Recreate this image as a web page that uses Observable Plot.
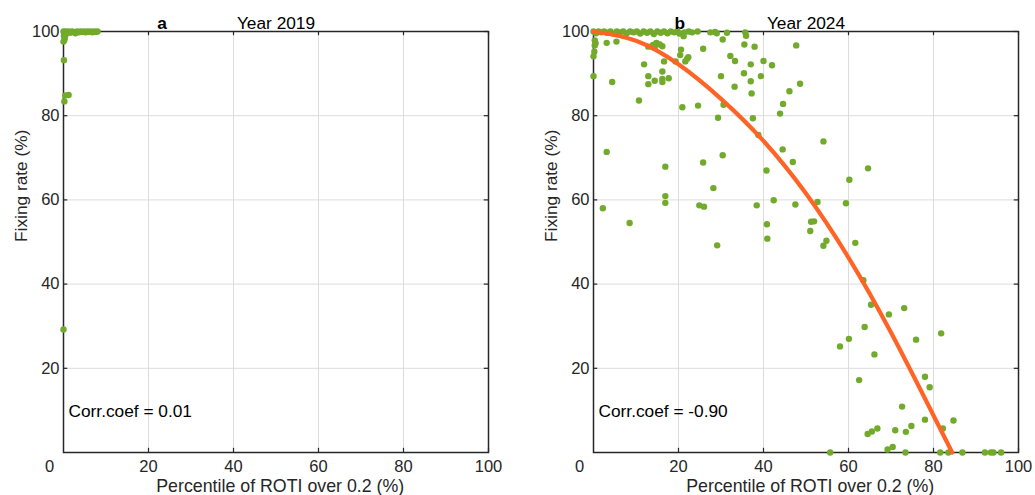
<!DOCTYPE html>
<html><head><meta charset="utf-8">
<script src="https://cdn.jsdelivr.net/npm/d3@7"></script>
<script src="https://cdn.jsdelivr.net/npm/@observablehq/plot@0.6"></script>
<style>
body{margin:0;background:#fff;font-family:"Liberation Sans",Arial,sans-serif}
#wrap{display:flex;width:1035px;height:495px}
</style>
</head><body><div id="wrap"></div>
<script>
const xTicks = [20, 40, 60, 80, 100];
const yTicks = [20, 40, 60, 80, 100];
const zeroLabel = ["0"];
const panelLetters = ["a", "b"];
const yearTitles = ["Year 2019", "Year 2024"];
const corrLabels = ["Corr.coef = 0.01", "Corr.coef = -0.90"];
const xLabel = "Percentile of ROTI over 0.2 (%)";
const yLabel = "Fixing rate (%)";

// Panel a (2019)
const rotiA = [0,0.2,0.5,0.8,1.2,1.6,2,2.4,2.8,3.2,3.6,4,4.4,4.8,5.2,5.6,6,6.4,6.8,7.2,7.6,8,
  0.1,0.3,0.2,0,0.5,0.1,0.4,1.2,0.2,0];
const fixA = [100,99.6,100,99.8,100,99.7,100,99.9,99.6,100,99.8,100,99.9,100,99.8,100,99.9,100,99.8,100,99.9,100,
  99,98.5,98,97.6,99.2,93.2,84.8,84.9,83.4,29.2];

// Panel b (2024)
const rotiB = [0,0.6,1.2,1.8,2.5,3.2,4,4.7,5.5,6.2,7,7.8,8.6,9.4,10.2,11,11.8,12.6,13.4,14.2,15,15.8,16.6,17.4,18.2,19,19.8,20.2,
  21.4,22.4,23.2,24.5,27.5,28.6,29,31.4,35.7,21.2,35.9,30.4,
  0.3,0.3,0.2,0,0,0.5,
  3.1,5.4,4.4,10.7,11.9,12.9,14,14.8,15.6,14.4,16.2,12.9,12.9,14.4,16.2,16.2,16.2,17.7,16.6,19.3,20.4,20.6,21.6,22,22.3,25.8,20.9,24.6,29.3,
  35.5,37.9,47.7,32.2,33.3,37,40,42,30,35.4,37,39.4,33.2,37.2,48.6,46.1,44.6,43.9,30.6,37.5,38.8,
  3.1,30.4,44.5,
  2.2,8.5,16.9,16.9,16.9,25.8,28.2,24.9,26,29.1,38.4,40.7,42.4,46.9,47.5,40.8,40.9,
  54.1,60.2,64.6,52.7,59.4,51.2,51.9,51,54.8,54.1,61.6,
  63.5,65.3,69.5,73.1,63.8,60.1,58,66.1,75.9,81.8,62.5,78,79.1,72.6,78,84.7,82.2,64.5,65.5,66.8,71,73.5,74.8,69.2,70.4,
  55.7,73.4,81.6,83.5,86.8,92.1,93.5,94.1,95.9];
const fixB = [100,99.6,100,99.8,100,99.7,100,99.5,100,99.8,100,99.6,100,99.8,100,99.5,100,99.7,100,99.4,100,99.7,100,99.6,100,99.8,100,99.5,
  99.8,100,99.8,100,99.8,99.9,99.6,99.7,99.8,98.9,99,98.1,
  97.9,96.7,95.2,94.1,89.4,97.2,
  97.3,97.6,88,83.6,92.2,96.4,96.8,97.3,96.9,96.1,96.5,89.4,87.5,88.3,90.5,88.7,88,88.9,92.9,92.9,94.4,95.7,92.9,93.5,93.9,95.9,82,82.4,79.5,
  96.9,96.4,96.7,94.2,93,92.2,93,92,89.4,90.1,88.2,89.4,86.9,85.3,87.6,85.8,82.8,80.5,82.6,79.4,75.4,
  71.4,70.6,72,
  58,54.5,67.9,60.9,59.3,68.9,62.8,58.7,58.4,49.2,58.7,67,59.9,69,58.9,54.2,50.8,
  73.9,64.8,67.5,59.5,59.2,54.8,54.9,52.6,50.3,49.1,49.8,
  40.9,35.1,32.8,34.3,29.8,27,25.2,23.3,26.8,28.3,17.2,18,15.5,10.9,7.8,7.6,5.7,4.4,5,5.7,5.3,4.9,6.3,0.7,1.3,
  0,0,0,0,0,0,0,0,0];

// Fitted curve (panel b)
const fitX = [0, 10, 20, 30, 40, 50, 60, 70, 80, 84.4];
const fitY = [100, 97.8, 92.2, 84, 74, 61.5, 46.3, 28.5, 8.8, 0];

const GREEN = "#72aa2c", ORANGE = "#ff6426", INK = "#262626", GRID = "#dcdcdc";
const FS = 16.5;   // tick labels
const LFS = 17.3;  // titles and axis labels

function panel(i, xs, ys, fit, ml, mr, w) {
  const pts = xs.map((x, k) => ({x, y: ys[k]}));
  const marks = [
    Plot.ruleX(xTicks, {x: d => d, stroke: GRID, strokeWidth: 1}),
    Plot.ruleY(yTicks, {y: d => d, stroke: GRID, strokeWidth: 1}),
    Plot.frame({stroke: INK, strokeWidth: 1.5}),
    // inward ticks on all four sides
    Plot.ruleX(xTicks, {x: d => d, y1: 0, y2: 1, stroke: INK, strokeWidth: 1.2}),
    Plot.ruleX(xTicks, {x: d => d, y1: 99, y2: 100, stroke: INK, strokeWidth: 1.2}),
    Plot.ruleY(yTicks, {y: d => d, x1: 0, x2: 1, stroke: INK, strokeWidth: 1.2}),
    Plot.ruleY(yTicks, {y: d => d, x1: 99, x2: 100, stroke: INK, strokeWidth: 1.2}),
    Plot.axisX({ticks: xTicks, tickSize: 0, tickPadding: 8, label: null, fontSize: FS}),
    Plot.axisY({ticks: yTicks, tickSize: 0, tickPadding: 4, label: null, fontSize: FS}),
    Plot.text(zeroLabel, {x: 0, y: 0, text: d => d, dx: -14, dy: 8, lineAnchor: "top", fontSize: FS, fill: INK}),
    Plot.dot(pts, {x: "x", y: "y", r: 3.2, fill: GREEN, stroke: "none"}),
  ];
  if (fit) {
    const fp = fit[0].map((x, k) => ({x, y: fit[1][k]}));
    marks.push(Plot.line(fp, {x: "x", y: "y", stroke: ORANGE, strokeWidth: 4.2, curve: "natural"}));
  }
  marks.push(
    Plot.text([panelLetters[i]], {x: i === 0 ? 23.2 : 20.3, frameAnchor: "top", lineAnchor: "middle", dy: -8.5, text: d => d, fontWeight: "bold", fontSize: LFS, fill: "#000"}),
    Plot.text([yearTitles[i]], {x: 50, frameAnchor: "top", lineAnchor: "middle", dy: -8.5, text: d => d, fontSize: LFS, fill: "#000"}),
    Plot.text([corrLabels[i]], {frameAnchor: "bottom-left", lineAnchor: "middle", dx: 5, dy: -41, textAnchor: "start", text: d => d, fontSize: LFS, fill: "#000"}),
    Plot.text([xLabel], {x: 51, frameAnchor: "bottom", lineAnchor: "middle", dy: 33.5, text: d => d, fontSize: 17.8, fill: INK}),
    Plot.text([yLabel], {frameAnchor: "left", lineAnchor: "middle", dx: -42.5, rotate: -90, text: d => d, fontSize: LFS, fill: INK})
  );
  return Plot.plot({
    width: w, height: 495,
    marginLeft: ml, marginRight: mr, marginTop: 31, marginBottom: 43,
    x: {domain: [0, 100]},
    y: {domain: [0, 100]},
    style: {fontFamily: "Liberation Sans, Arial, sans-serif", fontSize: FS + "px", color: INK, background: "white", overflow: "visible"},
    marks
  });
}

const wrap = document.getElementById("wrap");
wrap.appendChild(panel(0, rotiA, fixA, null, 63, 29, 517));
wrap.appendChild(panel(1, rotiB, fixB, [fitX, fitY], 76, 17, 518));
</script>
</body></html>
